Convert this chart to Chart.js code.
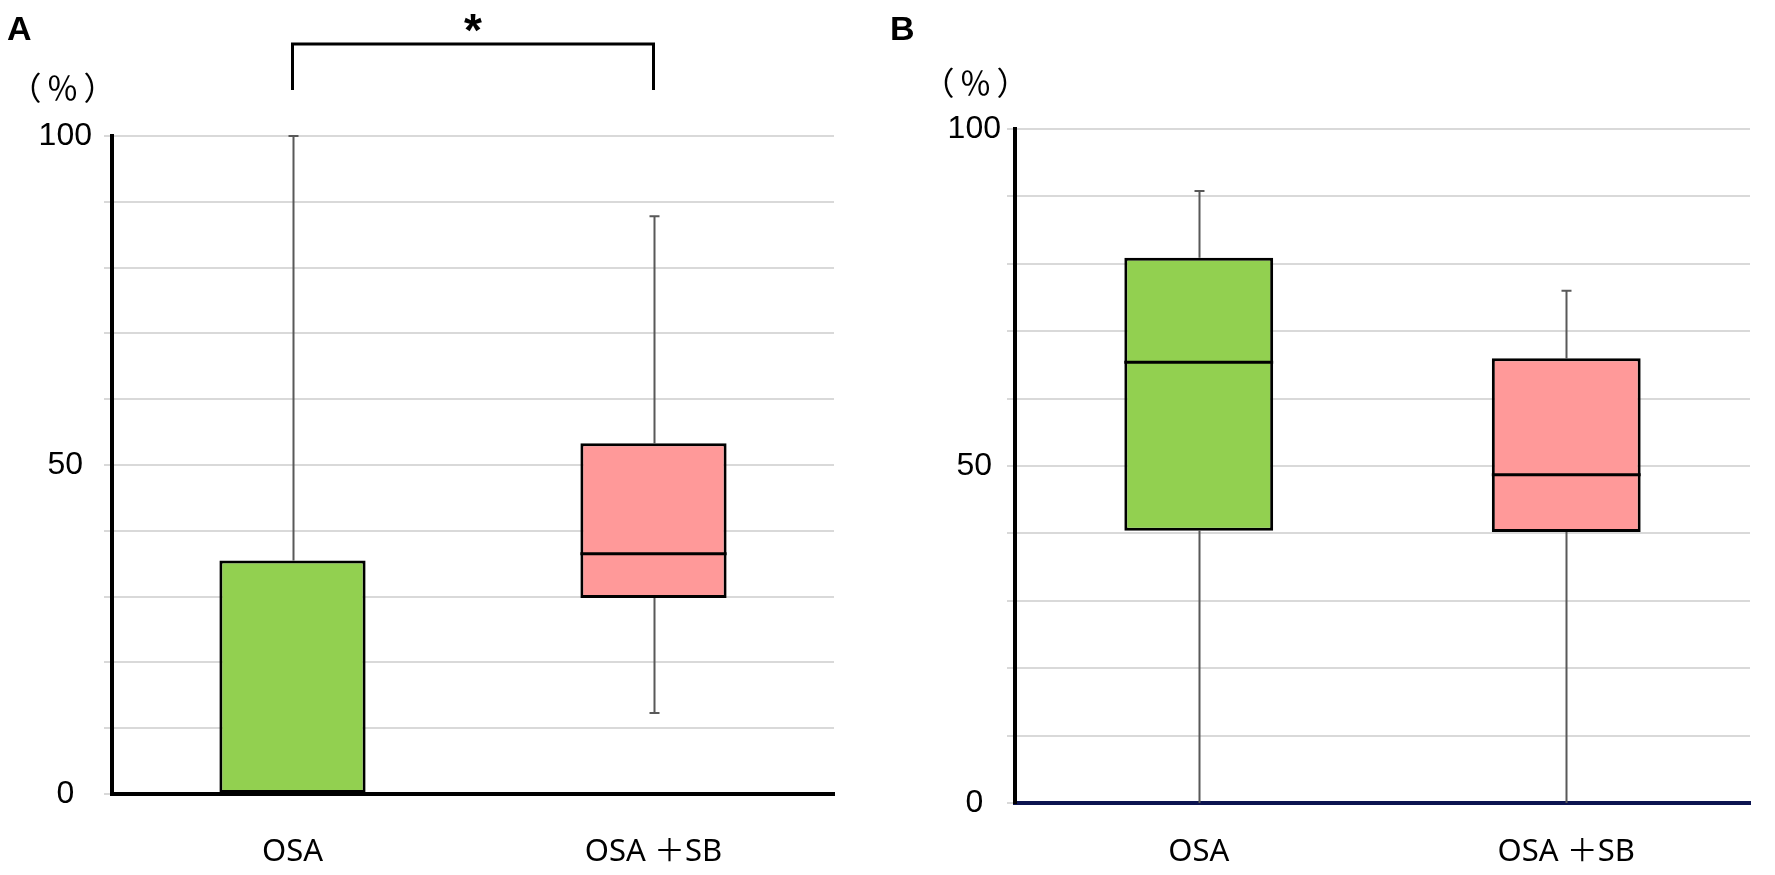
<!DOCTYPE html>
<html lang="en">
<head>
    <meta charset="UTF-8">
    <title>OSA vs OSA + SB</title>
    <script src="https://cdn.jsdelivr.net/npm/chart.js"></script>
    <style>
        body {
            margin: 0;
            padding: 0;
            background: white;
            width: 1775px;
            height: 875px;
            position: relative;
            overflow: hidden;
            font-family: "Liberation Sans", Arial, sans-serif;
        }
        .panel {
            position: absolute;
            top: 0;
            height: 875px;
        }
        #panelA { left: 0; width: 880px; }
        #panelB { left: 880px; width: 895px; }
        .tag {
            position: absolute;
            font-weight: bold;
            font-size: 34px;
            line-height: 1;
        }
        .unit {
            position: absolute;
            font-family: "Noto Sans CJK JP", sans-serif;
            font-size: 32px;
            letter-spacing: 5px;
            line-height: 1;
            transform: translateX(-50%);
        }
    </style>
</head>
<body>
    <div class="panel" id="panelA"><canvas id="chartA"></canvas></div>
    <div class="panel" id="panelB"><canvas id="chartB"></canvas></div>

    <div class="tag" style="left:7px; top:11px;">A</div>
    <div class="tag" style="left:890px; top:11px;">B</div>
    <div class="unit" style="left:65px; top:70px;">（％）</div>
    <div class="unit" style="left:978px; top:65px;">（％）</div>

    <script>
        const categories = ['OSA', 'OSA ＋SB'];
        const boxColors = ['#92d050', '#ff9999'];

        // panel A (%)
        const aMin = [0, 12.3];
        const aQ1 = [0, 29.8];
        const aMedian = [0, 36.5];
        const aQ3 = [35.5, 53.3];
        const aMax = [100, 87.8];

        // panel B (%)
        const bMin = [0, 0];
        const bQ1 = [40.4, 40.2];
        const bMedian = [65.4, 48.7];
        const bQ3 = [80.9, 66.0];
        const bMax = [90.8, 76.0];

        // y axis: grid every 10, labels every 50
        const yMin = 0;
        const yMax = 100;
        const yStep = 10;
        const yLabelEvery = 50;

        // significance bracket over panel A
        const sigLabel = '*';
        const sigTop = 114;
        const sigLegEnd = 107;

        // whiskers, caps and median lines, drawn through the chart's scales
        const boxPlotPlugin = {
            id: 'boxPlot',
            beforeDatasetsDraw(chart, args, opts) {
                const x = chart.scales.x, y = chart.scales.y, ctx = chart.ctx;
                ctx.save();
                ctx.strokeStyle = '#595959';
                ctx.lineWidth = 2;
                opts.min.forEach((v, i) => {
                    const px = Math.round(x.getPixelForValue(i)) + 0.5;
                    ctx.beginPath();
                    ctx.moveTo(px, y.getPixelForValue(opts.max[i]));
                    ctx.lineTo(px, y.getPixelForValue(opts.q3[i]));
                    ctx.moveTo(px, y.getPixelForValue(opts.q1[i]));
                    ctx.lineTo(px, y.getPixelForValue(v));
                    ctx.stroke();
                    // caps
                    ctx.beginPath();
                    ctx.moveTo(px - 5, y.getPixelForValue(opts.max[i]));
                    ctx.lineTo(px + 5, y.getPixelForValue(opts.max[i]));
                    if (v > yMin) {
                        ctx.moveTo(px - 5, y.getPixelForValue(v));
                        ctx.lineTo(px + 5, y.getPixelForValue(v));
                    }
                    ctx.stroke();
                });
                ctx.restore();
            },
            afterDatasetsDraw(chart, args, opts) {
                const x = chart.scales.x, y = chart.scales.y, ctx = chart.ctx;
                const meta = chart.getDatasetMeta(0);
                ctx.save();
                ctx.strokeStyle = 'black';
                ctx.lineWidth = 3;
                opts.median.forEach((v, i) => {
                    const bar = meta.data[i];
                    const half = bar.width / 2;
                    const py = y.getPixelForValue(v);
                    ctx.beginPath();
                    ctx.moveTo(bar.x - half, py);
                    ctx.lineTo(bar.x + half, py);
                    ctx.stroke();
                });
                if (opts.bracket) {
                    const x1 = x.getPixelForValue(0), x2 = x.getPixelForValue(1);
                    const top = y.getPixelForValue(sigTop), leg = y.getPixelForValue(sigLegEnd);
                    ctx.lineWidth = 3;
                    ctx.beginPath();
                    ctx.moveTo(x1, leg);
                    ctx.lineTo(x1, top);
                    ctx.lineTo(x2, top);
                    ctx.lineTo(x2, leg);
                    ctx.stroke();
                    ctx.fillStyle = 'black';
                    ctx.font = 'bold 46px "Liberation Sans", Arial';
                    ctx.textAlign = 'center';
                    ctx.textBaseline = 'alphabetic';
                    ctx.fillText(sigLabel, (x1 + x2) / 2, top + 2);
                }
                ctx.restore();
            }
        };

        function makeChart(id, q1, q3, stats, look) {
            return new Chart(document.getElementById(id), {
                type: 'bar',
                data: {
                    labels: categories,
                    datasets: [{
                        data: q1.map((v, i) => [v, q3[i]]),
                        backgroundColor: boxColors,
                        borderColor: 'black',
                        borderWidth: 3,
                        borderSkipped: false,
                        barPercentage: 0.405,
                        categoryPercentage: 1
                    }]
                },
                options: {
                    responsive: true,
                    maintainAspectRatio: false,
                    animation: false,
                    layout: { padding: look.padding },
                    plugins: {
                        legend: { display: false },
                        tooltip: { enabled: false },
                        boxPlot: stats
                    },
                    scales: {
                        x: {
                            grid: { color: 'rgba(0,0,0,0)', drawTicks: false },
                            border: { color: look.xAxisColor, width: 4 },
                            ticks: {
                                color: 'black',
                                padding: look.xPad,
                                font: { family: '"Noto Sans", "Noto Sans CJK JP"', size: 31 }
                            },
                            afterFit: s => { s.height = look.xHeight; }
                        },
                        y: {
                            min: yMin,
                            max: yMax,
                            grid: { color: '#d9d9d9', lineWidth: 2, tickLength: 8, tickColor: '#d9d9d9' },
                            border: { color: 'black', width: 4 },
                            ticks: {
                                stepSize: yStep,
                                color: 'black',
                                crossAlign: 'center',
                                padding: look.yPad,
                                font: { family: '"Liberation Sans", Arial', size: 32 },
                                callback: v => (v % yLabelEvery === 0 ? v : '')
                            },
                            afterFit: s => { s.width = look.yWidth; }
                        }
                    }
                },
                plugins: [boxPlotPlugin]
            });
        }

        makeChart('chartA', aQ1, aQ3,
            { min: aMin, q1: aQ1, median: aMedian, q3: aQ3, max: aMax, bracket: true },
            { padding: { left: 0, right: 46, top: 136, bottom: 0 }, xAxisColor: 'black',
              xHeight: 81, xPad: 40, yWidth: 112, yPad: 12 });

        makeChart('chartB', bQ1, bQ3,
            { min: bMin, q1: bQ1, median: bMedian, q3: bQ3, max: bMax, bracket: false },
            { padding: { left: 0, right: 25, top: 129, bottom: 0 }, xAxisColor: '#0c1450',
              xHeight: 72, xPad: 31, yWidth: 135, yPad: 6 });
    </script>
</body>
</html>
